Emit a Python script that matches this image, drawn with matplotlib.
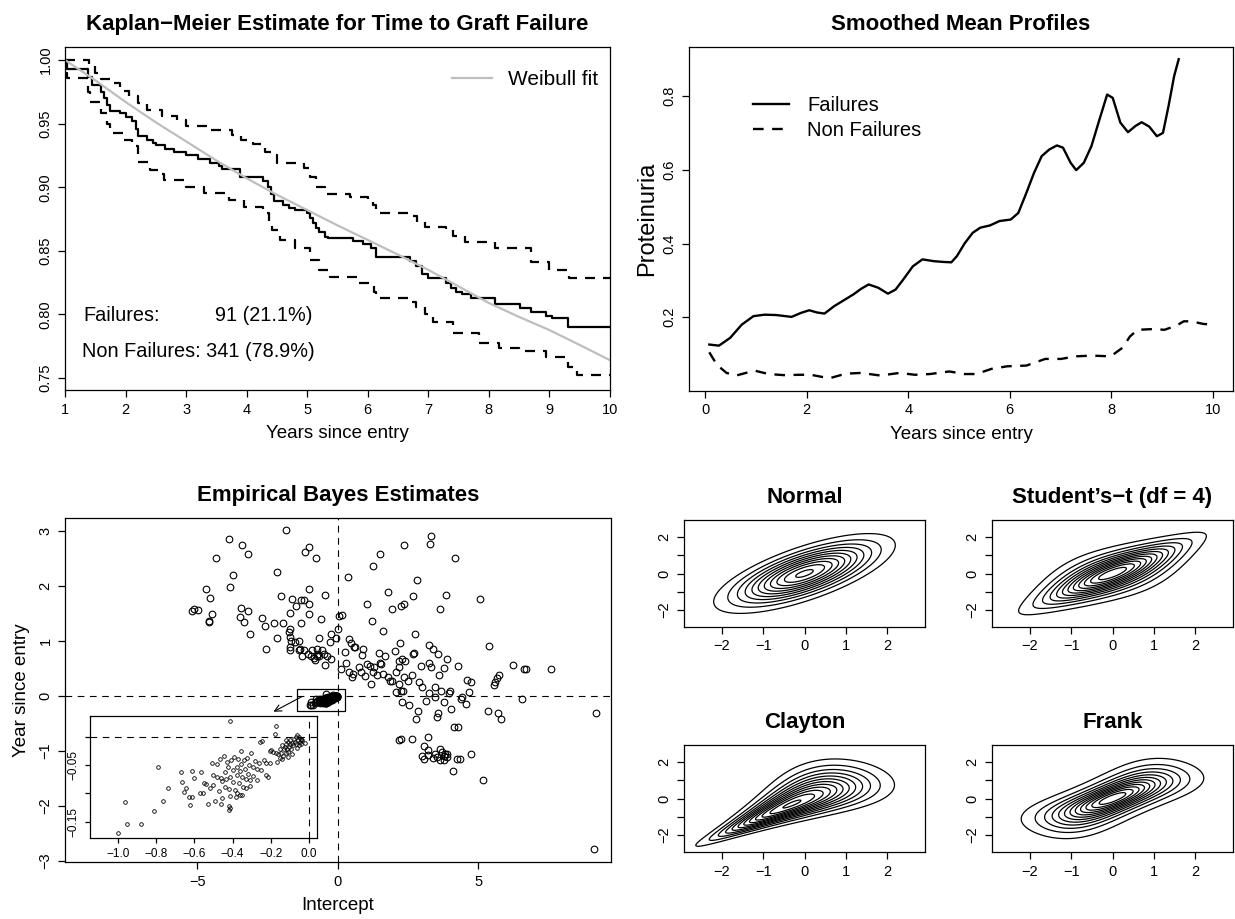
import math
import numpy as np
import matplotlib
matplotlib.use('Agg')
import matplotlib.pyplot as plt
from matplotlib.patches import Rectangle

plt.rcParams['font.family'] = ['Liberation Sans', 'DejaVu Sans']
plt.rcParams['axes.unicode_minus'] = True

# ---------------- data ----------------
# Kaplan-Meier estimate (time of step, survival after step)
km_time = [1.0, 1.03, 1.38, 1.45, 1.6, 1.65, 1.7, 1.74, 1.91, 2.0, 2.1, 2.18, 2.21, 2.35, 2.45, 2.5,
           2.65, 2.8, 3.0, 3.2, 3.4, 3.55, 3.6, 3.89, 4.27, 4.35, 4.4, 4.45, 4.6, 4.7, 4.8, 5.0, 5.05,
           5.1, 5.15, 5.2, 5.3, 5.35, 5.76, 5.92, 6.06, 6.14, 6.69, 6.8, 6.9, 7.0, 7.3, 7.38, 7.45,
           7.55, 7.7, 8.1, 8.51, 8.7, 8.95, 9.05, 9.3, 10.0]
km_surv = [1.0, 0.993, 0.987, 0.980, 0.975, 0.970, 0.965, 0.960, 0.958, 0.955, 0.952, 0.946, 0.940,
           0.937, 0.935, 0.933, 0.930, 0.928, 0.925, 0.922, 0.919, 0.917, 0.914, 0.908, 0.905, 0.900,
           0.895, 0.889, 0.886, 0.884, 0.882, 0.880, 0.876, 0.872, 0.868, 0.865, 0.861, 0.860, 0.858,
           0.855, 0.852, 0.845, 0.842, 0.838, 0.832, 0.829, 0.825, 0.821, 0.818, 0.816, 0.813, 0.808,
           0.805, 0.802, 0.799, 0.797, 0.790, 0.790]
upper_time = [1.0, 1.4, 1.5, 1.6, 1.75, 1.9, 2.05, 2.2, 2.35, 2.6, 2.85, 3.0, 3.4, 3.75, 3.9, 4.1,
              4.3, 4.4, 4.5, 4.95, 5.05, 5.15, 5.3, 5.7, 6.0, 6.09, 6.14, 6.75, 6.82, 6.95, 7.3, 7.4,
              7.6, 8.1, 8.7, 9.0, 9.33, 10.0]
upper_surv = [1.0, 0.995, 0.990, 0.985, 0.982, 0.976, 0.972, 0.966, 0.961, 0.956, 0.953, 0.948, 0.945,
              0.941, 0.937, 0.934, 0.928, 0.925, 0.919, 0.915, 0.908, 0.900, 0.895, 0.892, 0.889, 0.886,
              0.880, 0.877, 0.873, 0.869, 0.866, 0.862, 0.857, 0.852, 0.8415, 0.835, 0.829, 0.829]
lower_time = [1.0, 1.03, 1.38, 1.42, 1.6, 1.7, 1.75, 1.95, 2.1, 2.2, 2.4, 2.55, 2.63, 3.0, 3.3, 3.7,
              3.95, 4.27, 4.37, 4.42, 4.55, 4.8, 5.05, 5.2, 5.37, 5.86, 6.1, 6.14, 6.72, 6.8, 6.95, 7.08,
              7.4, 7.83, 8.17, 8.5, 8.95, 9.3, 9.45, 10.0]
lower_surv = [0.99, 0.986, 0.975, 0.967, 0.958, 0.950, 0.9424, 0.937, 0.932, 0.920, 0.9135, 0.910,
              0.9057, 0.900, 0.8953, 0.890, 0.8847, 0.8797, 0.872, 0.866, 0.8585, 0.852, 0.8428, 0.835,
              0.8297, 0.8245, 0.818, 0.813, 0.810, 0.806, 0.800, 0.7943, 0.7853, 0.7775, 0.7736, 0.771,
              0.7668, 0.7589, 0.7524, 0.7524]
weib_time = [1.0, 1.25, 1.5, 2.0, 2.5, 3.0, 3.5, 4.0, 4.5, 5.0, 5.5, 6.0, 6.5, 7.0, 7.5, 8.0, 8.5, 9.0, 9.5, 10.0]
weib_surv = [1.0, 0.992, 0.984, 0.967, 0.951, 0.936, 0.921, 0.907, 0.894, 0.882, 0.870, 0.8585, 0.847,
             0.835, 0.822, 0.809, 0.798, 0.7877, 0.776, 0.764]

# smoothed mean profiles
fail_t = [0.08, 0.27, 0.49, 0.72, 0.95, 1.17, 1.40, 1.70, 1.89, 2.05, 2.20, 2.35, 2.54, 2.73, 2.92, 3.07,
          3.22, 3.41, 3.60, 3.75, 3.90, 4.09, 4.28, 4.51, 4.70, 4.85, 4.96, 5.11, 5.27, 5.42, 5.61, 5.80,
          6.02, 6.17, 6.33, 6.48, 6.63, 6.78, 6.93, 7.05, 7.20, 7.31, 7.46, 7.61, 7.77, 7.92, 8.03, 8.18,
          8.33, 8.48, 8.60, 8.75, 8.90, 9.02, 9.13, 9.24, 9.33]
fail_p = [0.126, 0.123, 0.144, 0.180, 0.203, 0.207, 0.206, 0.201, 0.212, 0.219, 0.213, 0.210, 0.230,
          0.246, 0.262, 0.277, 0.289, 0.280, 0.264, 0.275, 0.302, 0.338, 0.357, 0.352, 0.350, 0.349,
          0.366, 0.400, 0.429, 0.443, 0.449, 0.461, 0.465, 0.483, 0.538, 0.592, 0.637, 0.655, 0.666,
          0.660, 0.619, 0.599, 0.619, 0.664, 0.737, 0.804, 0.795, 0.728, 0.702, 0.719, 0.729, 0.717,
          0.691, 0.700, 0.773, 0.854, 0.900]
nonfail_t = [0.08, 0.23, 0.42, 0.61, 0.80, 0.98, 1.25, 1.55, 1.86, 2.08, 2.31, 2.46, 2.77, 3.07, 3.45,
             3.83, 4.13, 4.43, 4.81, 5.11, 5.34, 5.64, 5.95, 6.33, 6.70, 7.01, 7.31, 7.61, 7.99, 8.22,
             8.37, 8.52, 8.83, 9.05, 9.28, 9.43, 9.58, 9.81, 10.0]
nonfail_p = [0.105, 0.071, 0.049, 0.042, 0.049, 0.055, 0.046, 0.043, 0.044, 0.044, 0.038, 0.035, 0.047,
             0.049, 0.042, 0.049, 0.044, 0.046, 0.053, 0.046, 0.046, 0.060, 0.067, 0.069, 0.087, 0.087,
             0.094, 0.096, 0.094, 0.117, 0.148, 0.166, 0.168, 0.166, 0.177, 0.189, 0.189, 0.182, 0.180]

# empirical Bayes estimates (intercept, slope)
eb_pts = [(-1.84, 3.02), (-3.87, 2.86), (-3.42, 2.74), (-3.18, 2.59), (-4.33, 2.51), (-1.04, 2.71),
          (-1.16, 2.62), (-0.78, 2.52), (-3.74, 2.20), (-2.16, 2.25), (-3.84, 1.99), (-4.70, 1.94),
          (-4.56, 1.78), (-1.02, 1.94), (-2.03, 1.82), (-1.63, 1.77), (-1.19, 1.75), (-1.30, 1.74),
          (-1.01, 1.68), (-1.48, 1.63), (-0.44, 1.84), (-1.70, 1.51), (-1.01, 1.49), (-5.18, 1.55),
          (-5.11, 1.58), (-4.96, 1.56), (-4.47, 1.49), (-4.60, 1.37), (-4.60, 1.34), (-3.46, 1.61),
          (-3.18, 1.54), (-3.50, 1.43), (-3.35, 1.34), (-2.69, 1.42), (-2.61, 1.27), (-2.29, 1.33),
          (-1.96, 1.33), (-1.30, 1.33), (-0.60, 1.41), (-3.13, 1.13), (-2.18, 1.05), (-2.56, 0.85),
          (-1.71, 1.22), (-1.74, 1.16), (-1.70, 1.08), (-1.66, 1.00), (-1.52, 0.99), (-1.40, 1.00),
          (-0.68, 1.06), (-0.25, 1.13), (-0.08, 1.05), (-0.27, 0.99), (-1.72, 0.90), (-1.72, 0.84),
          (-1.36, 0.85), (-1.40, 0.83), (-1.22, 0.84), (-0.93, 0.83), (-0.75, 0.85), (-0.56, 0.83),
          (-1.27, 0.73), (-1.08, 0.77), (-0.96, 0.73), (-0.84, 0.69), (-0.75, 0.72), (-0.69, 0.77),
          (-0.51, 0.77), (-0.39, 0.72), (-0.25, 0.67), (-0.45, 0.57), (-0.68, 0.73), (-0.81, 0.66),
          (0.04, 1.46), (-0.01, 1.22),
          (3.31, 2.91), (3.28, 2.76), (2.34, 2.74), (1.51, 2.59), (4.16, 2.52), (1.24, 2.37), (0.35, 2.16),
          (2.80, 2.12), (1.78, 1.89), (2.67, 1.82), (3.84, 1.83), (5.06, 1.76), (1.03, 1.68), (1.92, 1.58),
          (2.23, 1.63), (2.34, 1.67), (3.64, 1.58), (0.16, 1.47), (1.20, 1.36), (1.60, 1.18), (2.73, 1.13),
          (0.40, 1.04), (0.47, 0.97), (0.56, 0.89), (0.60, 0.90), (0.26, 0.81), (0.91, 0.85), (0.85, 0.75),
          (1.47, 0.78), (1.69, 0.72), (2.21, 0.97), (2.05, 0.82), (2.68, 0.77), (2.70, 0.78), (3.25, 0.92),
          (3.37, 0.85), (3.55, 0.76), (5.37, 0.91), (3.88, 0.67), (0.28, 0.61), (0.12, 0.50), (0.39, 0.44),
          (0.53, 0.41), (0.50, 0.34), (0.77, 0.52), (0.82, 0.43), (0.95, 0.37), (1.05, 0.58), (1.15, 0.55),
          (1.28, 0.52), (1.24, 0.44), (1.39, 0.39), (1.50, 0.60), (1.53, 0.58), (1.60, 0.40), (1.77, 0.35),
          (1.84, 0.28), (1.93, 0.27), (1.17, 0.22), (2.18, 0.64), (2.16, 0.52), (2.28, 0.68), (2.40, 0.64),
          (2.07, 0.43), (2.36, 0.34), (2.48, 0.27), (2.63, 0.38), (2.19, 0.22), (2.90, 0.26), (2.99, 0.17),
          (2.97, 0.54), (3.26, 0.60), (3.31, 0.52), (3.59, 0.39), (3.78, 0.51), (4.28, 0.55), (3.44, 0.16),
          (3.66, 0.09), (3.26, 0.06), (3.94, 0.06), (4.00, 0.10), (2.07, 0.07), (2.25, 0.09), (2.31, 0.10),
          (4.59, 0.29), (4.73, 0.26), (5.56, 0.20), (5.60, 0.25), (5.66, 0.32), (5.74, 0.39), (4.65, 0.08),
          (4.41, -0.02), (6.23, 0.56), (6.61, 0.49), (6.70, 0.50), (7.59, 0.50), (6.55, -0.05),
          (4.38, -0.06), (2.28, -0.10), (2.53, -0.16), (3.15, -0.09), (3.45, -0.02), (3.77, -0.11),
          (4.57, -0.15), (2.86, -0.27), (2.79, -0.42), (3.58, -0.30), (3.52, -0.39), (4.03, -0.24),
          (5.35, -0.27), (5.70, -0.31), (5.81, -0.41), (9.19, -0.30), (4.13, -0.56), (4.27, -0.57),
          (2.19, -0.80), (2.25, -0.79), (2.63, -0.78), (3.19, -0.74), (3.07, -0.91), (3.19, -0.99),
          (3.62, -0.96), (3.00, -1.09), (3.07, -1.14), (3.22, -1.08), (3.37, -1.12), (3.47, -1.05),
          (3.54, -1.11), (3.62, -1.16), (3.71, -1.02), (3.76, -1.09), (3.82, -1.05), (3.77, -1.17),
          (3.88, -1.11), (3.90, -1.05), (4.23, -1.14), (4.33, -1.14), (4.73, -1.05), (4.09, -1.36),
          (5.18, -1.52), (9.10, -2.79)]

# points clustered around the origin (shown again in the inset)
cluster_pts = [(-0.999, -0.1705), (-0.956, -0.154), (-0.965, -0.116), (-0.878, -0.155), (-0.813, -0.132),
               (-0.790, -0.053), (-0.764, -0.113), (-0.741, -0.090), (-0.668, -0.062), (-0.663, -0.079),
               (-0.656, -0.097), (-0.642, -0.091), (-0.628, -0.106), (-0.622, -0.120), (-0.610, -0.106),
               (-0.615, -0.060), (-0.603, -0.072), (-0.563, -0.063), (-0.568, -0.100), (-0.554, -0.100),
               (-0.551, -0.081), (-0.537, -0.083), (-0.528, -0.118), (-0.519, -0.090), (-0.510, -0.047),
               (-0.505, -0.068), (-0.502, -0.085), (-0.493, -0.113), (-0.484, -0.048), (-0.481, -0.071),
               (-0.470, -0.095), (-0.467, -0.039), (-0.463, -0.072), (-0.458, -0.118), (-0.453, -0.109),
               (-0.453, -0.078), (-0.446, -0.034), (-0.441, -0.062), (-0.439, -0.089), (-0.432, -0.075),
               (-0.428, -0.044), (-0.423, -0.054), (-0.421, -0.093), (-0.418, -0.122), (-0.414, -0.126),
               (-0.418, -0.130), (-0.414, 0.029), (-0.411, -0.071), (-0.406, -0.041), (-0.400, -0.079),
               (-0.397, -0.059), (-0.392, -0.035), (-0.388, -0.094), (-0.383, -0.106), (-0.379, -0.054),
               (-0.376, -0.068), (-0.371, -0.039), (-0.365, -0.081), (-0.362, -0.060), (-0.357, -0.048),
               (-0.353, -0.025), (-0.351, -0.071), (-0.348, -0.103), (-0.344, -0.089), (-0.341, -0.041),
               (-0.336, -0.056), (-0.330, -0.075), (-0.327, -0.091), (-0.323, -0.038), (-0.318, -0.065),
               (-0.313, -0.050), (-0.309, -0.076), (-0.306, -0.087), (-0.301, -0.028), (-0.295, -0.054),
               (-0.292, -0.069), (-0.283, -0.042), (-0.274, -0.076), (-0.271, -0.056), (-0.260, -0.047),
               (-0.257, -0.009), (-0.243, -0.008), (-0.248, -0.059), (-0.236, -0.041), (-0.226, -0.046),
               (-0.222, -0.068), (-0.213, -0.071), (-0.205, -0.046), (-0.201, -0.025), (-0.196, -0.024),
               (-0.187, -0.026), (-0.178, 0.006), (-0.173, 0.019), (-0.170, -0.028), (-0.166, -0.044),
               (-0.161, -0.031), (-0.152, -0.022), (-0.149, -0.038), (-0.143, -0.029), (-0.138, -0.015),
               (-0.135, -0.034), (-0.131, -0.022), (-0.126, -0.018), (-0.121, -0.028), (-0.117, -0.012),
               (-0.114, -0.021), (-0.108, -0.026), (-0.107, -0.009), (-0.103, -0.018), (-0.100, -0.013),
               (-0.096, -0.005), (-0.091, -0.021), (-0.087, -0.011), (-0.082, -0.015), (-0.079, -0.004),
               (-0.073, -0.009), (-0.068, 0.000), (-0.065, -0.012), (-0.061, 0.003), (-0.056, -0.006),
               (-0.052, -0.001), (-0.047, -0.009), (-0.042, -0.003), (-0.038, -0.012), (-0.033, -0.006),
               (-0.021, -0.011), (-0.411, -0.105), (-0.379, -0.100), (-0.362, -0.103), (-0.090, -0.030),
               (-0.060, -0.020), (-0.040, -0.005), (-0.110, -0.035), (-0.140, -0.040), (-0.120, -0.005),
               (-0.050, -0.015)]

# copula parameters (normal margins)
normal_rho = 0.707
t_rho = 0.707
t_df = 4
clayton_theta = 2.0
frank_theta = 5.74
contour_step = 0.02

# ---------------- densities for the copula panels ----------------
g = np.linspace(-2.95, 2.95, 301)
X, Y = np.meshgrid(g, g)
erf = np.vectorize(math.erf)
phi_x = np.exp(-X ** 2 / 2) / np.sqrt(2 * np.pi)
phi_y = np.exp(-Y ** 2 / 2) / np.sqrt(2 * np.pi)
U = 0.5 * (1 + erf(X / np.sqrt(2)))
V = 0.5 * (1 + erf(Y / np.sqrt(2)))

dens_normal = np.exp(-(X ** 2 - 2 * normal_rho * X * Y + Y ** 2) / (2 * (1 - normal_rho ** 2))) / \
    (2 * np.pi * np.sqrt(1 - normal_rho ** 2))


def t4_quantile(p):
    # closed form quantile of the t distribution with 4 df
    a = 4 * p * (1 - p)
    q = np.sqrt(a)
    return np.sign(p - 0.5) * 2 * np.sqrt(np.maximum(np.cos(np.arccos(np.clip(q, 0, 1)) / 3) / q - 1, 0))


nu = t_df
tu, tv = t4_quantile(U), t4_quantile(V)
f1 = lambda t: math.gamma((nu + 1) / 2) / (math.sqrt(nu * math.pi) * math.gamma(nu / 2)) * (1 + t ** 2 / nu) ** (-(nu + 1) / 2)
Q = (tu ** 2 - 2 * t_rho * tu * tv + tv ** 2) / (nu * (1 - t_rho ** 2))
f2 = math.gamma((nu + 2) / 2) / (math.gamma(nu / 2) * nu * math.pi * math.sqrt(1 - t_rho ** 2)) * (1 + Q) ** (-(nu + 2) / 2)
dens_t = f2 / (f1(tu) * f1(tv)) * phi_x * phi_y

th = clayton_theta
c_clay = (1 + th) * (U * V) ** (-1 - th) * (U ** -th + V ** -th - 1) ** (-2 - 1 / th)
dens_clayton = c_clay * phi_x * phi_y

th = frank_theta
e1 = 1 - np.exp(-th)
c_frank = th * e1 * np.exp(-th * (U + V)) / (e1 - (1 - np.exp(-th * U)) * (1 - np.exp(-th * V))) ** 2
dens_frank = c_frank * phi_x * phi_y

# ---------------- figure ----------------
W, H = 1235, 919
fig = plt.figure(figsize=(W / 100, H / 100), dpi=100)
TICK = 10.5


def r_axes(ax, size=TICK, length=5):
    for s in ax.spines.values():
        s.set_linewidth(0.9)
    ax.tick_params(direction='out', length=length, width=0.9, pad=4, labelsize=size)
    ax.tick_params(axis='y', labelrotation=90)
    for lab in ax.get_yticklabels():
        lab.set_va('center')


dash = (0, (4.5, 3.6))

# Kaplan-Meier
ax1 = fig.add_axes([65 / W, 1 - 390 / H, 545 / W, 343 / H])
ax1.step(km_time, km_surv, where='post', color='black', lw=1.6)
ax1.step(upper_time, upper_surv, where='post', color='black', lw=1.6, ls=dash)
ax1.step(lower_time, lower_surv, where='post', color='black', lw=1.6, ls=dash)
ax1.plot(weib_time, weib_surv, color='#BEBEBE', lw=1.6, label='Weibull fit')
ax1.set_xlim(1, 10)
ax1.set_ylim(0.7406, 1.0102)
ax1.set_xticks(range(1, 11))
ax1.set_yticks([0.75, 0.80, 0.85, 0.90, 0.95, 1.00])
ax1.set_yticklabels(['0.75', '0.80', '0.85', '0.90', '0.95', '1.00'])
r_axes(ax1)
ax1.set_title('Kaplan\u2212Meier Estimate for Time to Graft Failure', fontsize=16, fontweight='bold', pad=12)
ax1.set_xlabel('Years since entry', fontsize=13.5, labelpad=6)
ax1.legend(loc='upper left', bbox_to_anchor=((452 - 65) / 545, (390 - 70) / 343), frameon=False,
           fontsize=15, handlelength=1.9, handletextpad=0.8, borderpad=0, borderaxespad=0)
ax1.text(1.30, 0.7995, 'Failures:', fontsize=14.3, va='center', ha='left')
ax1.text(5.09, 0.7995, '91 (21.1%)', fontsize=14.3, va='center', ha='right')
ax1.text(1.28, 0.7707, 'Non Failures: 341 (78.9%)', fontsize=14.3, va='center', ha='left')

# Smoothed mean profiles
ax2 = fig.add_axes([689 / W, 1 - 391 / H, 544 / W, 344 / H])
ax2.plot(fail_t, fail_p, color='black', lw=1.7, label='Failures')
ax2.plot(nonfail_t, nonfail_p, color='black', lw=1.7, ls=dash, label='Non Failures')
ax2.set_xlim(-0.32, 10.4)
ax2.set_ylim(0.0, 0.933)
ax2.set_xticks([0, 2, 4, 6, 8, 10])
ax2.set_yticks([0.2, 0.4, 0.6, 0.8])
r_axes(ax2)
ax2.set_title('Smoothed Mean Profiles', fontsize=16, fontweight='bold', pad=12)
ax2.set_xlabel('Years since entry', fontsize=13.5, labelpad=6)
ax2.set_ylabel('Proteinuria', fontsize=17, labelpad=3)
ax2.legend(loc='upper left', bbox_to_anchor=((753 - 689) / 544, (391 - 96) / 344), frameon=False,
           fontsize=14.5, handlelength=1.8, handletextpad=0.9, labelspacing=0.3, borderpad=0, borderaxespad=0)

# Empirical Bayes estimates
eb = np.array(eb_pts)
cl = np.array(cluster_pts)
ax3 = fig.add_axes([65 / W, 1 - 862 / H, 546 / W, 344 / H])
ax3.axhline(0, color='black', lw=0.8, ls=(0, (6, 5)))
ax3.axvline(0, color='black', lw=0.8, ls=(0, (6, 5)))
ax3.plot(eb[:, 0], eb[:, 1], 'o', mfc='none', mec='black', ms=4.8, mew=0.8)
ax3.plot(cl[:, 0], cl[:, 1], 'o', mfc='none', mec='black', ms=4.8, mew=0.8)
ax3.add_patch(Rectangle((-1.44, -0.27), 1.70, 0.39, fill=False, lw=0.9, ec='black'))
ax3.annotate('', xy=(-2.29, -0.285), xytext=(-1.28, -0.01),
             arrowprops=dict(arrowstyle='->', lw=0.8, color='black', shrinkA=0, shrinkB=0, mutation_scale=12))
ax3.set_xlim(-9.71, 9.72)
ax3.set_ylim(-3.02, 3.24)
ax3.set_xticks([-5, 0, 5])
ax3.set_yticks([-3, -2, -1, 0, 1, 2, 3])
r_axes(ax3)
ax3.set_title('Empirical Bayes Estimates', fontsize=16, fontweight='bold', pad=12)
ax3.set_xlabel('Intercept', fontsize=13.5, labelpad=6)
ax3.set_ylabel('Year since entry', fontsize=13.5, labelpad=6)

# inset
ax4 = fig.add_axes([90 / W, 1 - 838 / H, 227 / W, 122 / H])
ax4.set_facecolor('white')
ax4.axhline(0, color='black', lw=0.8, ls=(0, (6, 5)))
ax4.axvline(0, color='black', lw=0.8, ls=(0, (6, 5)))
ax4.plot(cl[:, 0], cl[:, 1], 'o', mfc='none', mec='black', ms=2.6, mew=0.6)
ax4.set_xlim(-1.148, 0.0435)
ax4.set_ylim(-0.179, 0.037)
ax4.set_xticks([-1.0, -0.8, -0.6, -0.4, -0.2, 0.0])
ax4.set_xticklabels(['\u22121.0', '\u22120.8', '\u22120.6', '\u22120.4', '\u22120.2', '0.0'])
ax4.set_yticks([-0.15, -0.10, -0.05, 0.0])
ax4.set_yticklabels(['\u22120.15', '', '\u22120.05', ''])
r_axes(ax4, size=8.5, length=3.5)

# copula contour panels
cop_boxes = [(684, 627), (992, 627), (684, 852), (992, 852)]
cop_titles = ['Normal', 'Student\u2019s\u2212t (df = 4)', 'Clayton', 'Frank']
cop_dens = [dens_normal, dens_t, dens_clayton, dens_frank]
for (left, bottom), title, dens in zip(cop_boxes, cop_titles, cop_dens):
    ax = fig.add_axes([left / W, 1 - bottom / H, 241 / W, 107 / H])
    levels = np.arange(contour_step, dens.max(), contour_step)
    ax.contour(X, Y, dens, levels=levels, colors='black', linewidths=0.9)
    ax.set_xlim(-2.92, 2.92)
    ax.set_ylim(-2.95, 2.95)
    ax.set_xticks([-2, -1, 0, 1, 2])
    ax.set_yticks([-2, -1, 0, 1, 2])
    ax.set_yticklabels(['\u22122', '', '0', '', '2'])
    r_axes(ax)
    ax.set_title(title, fontsize=16, fontweight='bold', pad=12)

fig.savefig('out.png', dpi=100)
